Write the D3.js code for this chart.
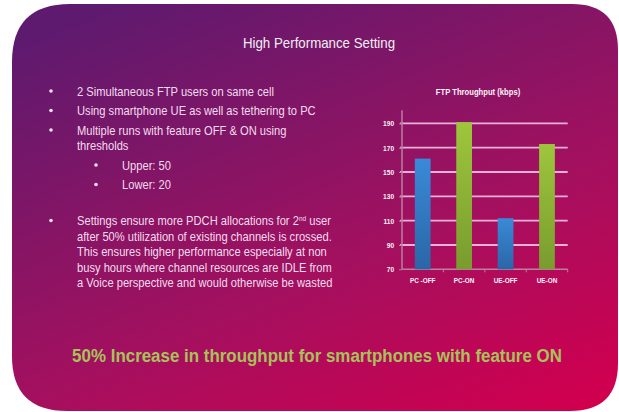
<!DOCTYPE html>
<html>
<head>
<meta charset="utf-8">
<script src="https://cdn.jsdelivr.net/npm/d3@7"></script>
<style>
  body { margin: 0; background: #fff; }
  text { font-family: 'Liberation Sans', Arial, sans-serif; }
  .chart text { font-weight: bold; }
</style>
</head>
<body>
<svg id="slide" width="619" height="412"></svg>
<script>
// chart data
var categories = [ 'PC -OFF', 'PC-ON', 'UE-OFF', 'UE-ON' ],
  throughput = [ 161, 191, 112, 173 ],
  feature = [ 'off', 'on', 'off', 'on' ],
  yTicks = [ 70, 90, 110, 130, 150, 170, 190 ];

// slide text
var title = 'High Performance Setting',
  chartTitle = 'FTP Throughput (kbps)',
  headline = '50% Increase in throughput for smartphones with feature ON';

var bullets = [
  { level: 0, lines: [ '2 Simultaneous FTP users on same cell' ] },
  { level: 0, lines: [ 'Using smartphone UE as well as tethering to PC' ] },
  { level: 0, lines: [ 'Multiple runs with feature OFF & ON using', 'thresholds' ] },
  { level: 1, lines: [ 'Upper: 50' ] },
  { level: 1, lines: [ 'Lower: 20' ] },
  { level: 0, gap: true, lines: [ 'Settings ensure more PDCH allocations for 2|nd| user',
    'after 50% utilization of existing channels is crossed.',
    'This ensures higher performance especially at non',
    'busy hours where channel resources are IDLE from',
    'a Voice perspective and would otherwise be wasted' ] }
];

var svg = d3.select( '#slide' );
var defs = svg.append( 'defs' );

var bg = defs.append( 'linearGradient' ).attr( 'id', 'bg' )
  .attr( 'gradientUnits', 'userSpaceOnUse' )
  .attr( 'x1', 40 ).attr( 'y1', 30 ).attr( 'x2', 272 ).attr( 'y2', 587 );
[ [ 0, '#5d1a6f' ], [ 0.35, '#8a1464' ], [ 0.55, '#a3105f' ], [ 0.9, '#cf0050' ], [ 1, '#d6004c' ] ]
  .forEach( s => bg.append( 'stop' ).attr( 'offset', s[ 0 ] ).attr( 'stop-color', s[ 1 ] ) );

function barGrad( id, top, bottom ) {
  var g = defs.append( 'linearGradient' ).attr( 'id', id )
    .attr( 'x1', 0 ).attr( 'y1', 0 ).attr( 'x2', 0 ).attr( 'y2', 1 );
  g.append( 'stop' ).attr( 'offset', 0 ).attr( 'stop-color', top );
  g.append( 'stop' ).attr( 'offset', 1 ).attr( 'stop-color', bottom );
}
barGrad( 'off', '#3a8ad8', '#2a66a6' );
barGrad( 'on', '#9ec63c', '#789c2e' );

// slide panel with uneven rounded corners
var L = 12, T = 4, R = 618, B = 411,
  rTL = 58, rTR = 46, rBR = 48, rBL = 55;
svg.append( 'path' )
  .attr( 'd', 'M' + ( L + rTL ) + ',' + T +
    ' L' + ( R - rTR ) + ',' + T + ' Q' + R + ',' + T + ' ' + R + ',' + ( T + rTR ) +
    ' L' + R + ',' + ( B - rBR ) + ' Q' + R + ',' + B + ' ' + ( R - rBR ) + ',' + B +
    ' L' + ( L + rBL ) + ',' + B + ' Q' + L + ',' + B + ' ' + L + ',' + ( B - rBL ) +
    ' L' + L + ',' + ( T + rTL ) + ' Q' + L + ',' + T + ' ' + ( L + rTL ) + ',' + T + 'Z' )
  .style( 'fill', 'url(#bg)' );

svg.append( 'text' )
  .attr( 'transform', 'translate(319,48) scale(0.95,1)' )
  .attr( 'text-anchor', 'middle' )
  .style( 'font-size', '14px' )
  .style( 'fill', '#f3eef4' )
  .text( title );

/* Bullets */

var lineY = 95.5;
bullets.forEach( function( b ) {
  if ( b.gap ) lineY += 16.5;
  var bx = b.level ? 96 : 51,
    tx = b.level ? 122 : 77;
  svg.append( 'circle' )
    .attr( 'cx', bx ).attr( 'cy', lineY - 4.5 ).attr( 'r', 1.8 )
    .style( 'fill', '#f4e4f0' );
  b.lines.forEach( function( ln, i ) {
    var t = svg.append( 'text' )
      .attr( 'transform', 'translate(' + tx + ',' + lineY + ') scale(0.93,1)' )
      .style( 'font-size', '12px' )
      .style( 'fill', '#f4dcee' );
    ln.split( '|' ).forEach( function( part, k ) {
      var s = t.append( 'tspan' ).text( part );
      if ( k === 1 ) s.attr( 'dy', -4.5 ).style( 'font-size', '7px' );
      if ( k === 2 ) s.attr( 'dy', 4.5 );
    } );
    lineY += ( i < b.lines.length - 1 ) ? 15.5 : 19.5;
  } );
} );

/* Chart */

var chart = svg.append( 'g' ).attr( 'class', 'chart' );

var x = d3.scaleBand()
  .domain( categories )
  .range( [ 402, 567.7 ] )
  .paddingInner( 0.62 )
  .paddingOuter( 0.31 );

var y = d3.scaleLinear()
  .domain( [ 70, 200 ] )
  .range( [ 269.3, 111.2 ] );

chart.append( 'text' )
  .attr( 'transform', 'translate(478,95) scale(0.85,1)' )
  .attr( 'text-anchor', 'middle' )
  .style( 'font-size', '9px' )
  .style( 'fill', '#fbf3f8' )
  .text( chartTitle );

chart.append( 'g' )
  .selectAll( 'line' )
  .data( yTicks.slice( 1 ) )
  .enter().append( 'line' )
    .attr( 'x1', 400 ).attr( 'x2', 567.7 )
    .attr( 'y1', d => y( d ) ).attr( 'y2', d => y( d ) )
    .style( 'stroke', '#eab0d8' )
    .style( 'stroke-width', 1.8 );

var yAxis = chart.append( 'g' )
  .attr( 'transform', 'translate(402,0)' )
  .call( d3.axisLeft( y ).tickValues( yTicks ).tickSize( 3 ).tickPadding( 6 ) );

var xAxis = chart.append( 'g' )
  .attr( 'transform', 'translate(0,' + y( 70 ) + ')' )
  .call( d3.axisBottom( x ).tickSize( 0 ).tickPadding( 8 ) );

[ yAxis, xAxis ].forEach( function( a ) {
  a.select( '.domain' ).style( 'stroke', '#b8809f' ).style( 'stroke-width', 1.5 );
  a.selectAll( '.tick line' ).style( 'stroke', '#b8809f' );
  a.selectAll( 'text' ).style( 'fill', '#fbf3f8' ).style( 'font-size', '8px' )
    .style( 'font-family', null );
} );
yAxis.selectAll( 'text' ).style( 'font-size', '7.5px' ).attr( 'transform', 'scale(0.88,1)' );
xAxis.selectAll( 'text' ).attr( 'transform', 'scale(0.8,1)' );
yAxis.select( '.domain' ).attr( 'd', 'M0,' + y( 70 ) + 'V' + ( y( 200 ) - 1 ) );
xAxis.select( '.domain' ).attr( 'd', 'M402,0H567.7' );

// separators between categories
xAxis.selectAll( '.sep' )
  .data( categories )
  .enter().append( 'line' )
    .attr( 'x1', d => x( d ) + x.bandwidth() + x.step() * x.paddingInner() / 2 )
    .attr( 'x2', d => x( d ) + x.bandwidth() + x.step() * x.paddingInner() / 2 )
    .attr( 'y1', 0 ).attr( 'y2', 3 )
    .style( 'stroke', '#b8809f' );

chart.selectAll( '.bar' )
  .data( categories )
  .enter().append( 'rect' )
    .attr( 'class', 'bar' )
    .attr( 'x', d => x( d ) )
    .attr( 'width', x.bandwidth() )
    .attr( 'y', ( d, i ) => y( throughput[ i ] ) )
    .attr( 'height', ( d, i ) => y( 70 ) - y( throughput[ i ] ) )
    .style( 'fill', ( d, i ) => 'url(#' + feature[ i ] + ')' );

// headline, squeezed to the width it has on the slide
var head = svg.append( 'text' )
  .attr( 'text-anchor', 'middle' )
  .style( 'font-size', '19px' )
  .style( 'font-weight', 'bold' )
  .style( 'fill', '#a8c25a' )
  .text( headline );
var squeeze = Math.min( 1, 490 / head.node().getComputedTextLength() );
head.attr( 'transform', 'translate(317,362) scale(' + squeeze + ',1)' );
</script>
</body>
</html>
